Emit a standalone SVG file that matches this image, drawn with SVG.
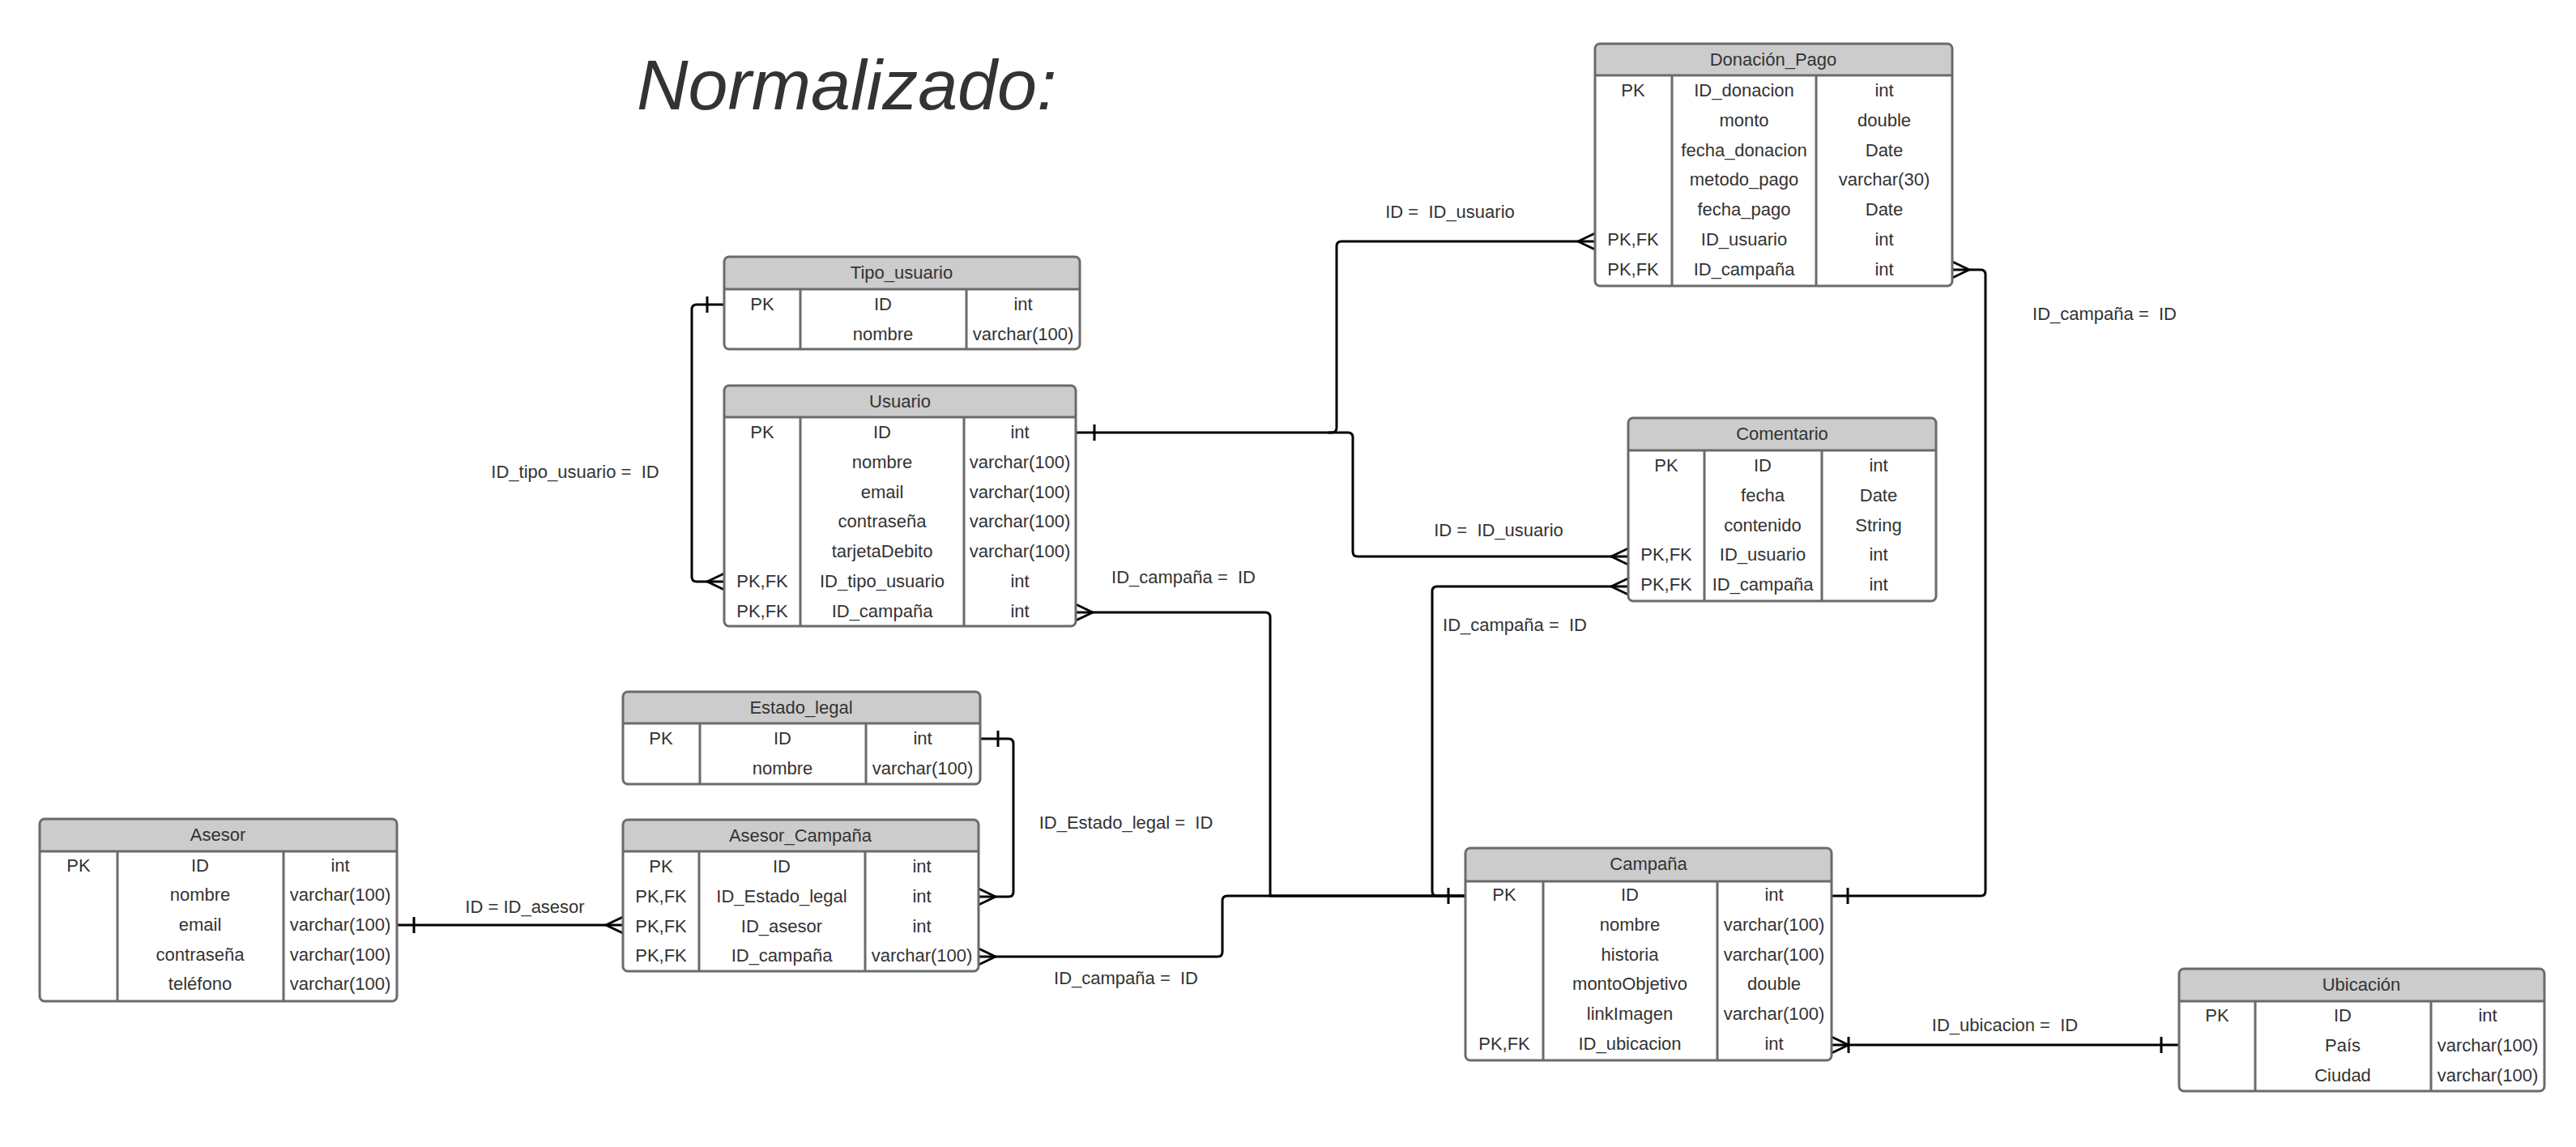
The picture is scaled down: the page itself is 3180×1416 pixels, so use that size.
<svg xmlns="http://www.w3.org/2000/svg" width="3180" height="1416" viewBox="0 0 3180 1416">
<style>
.bg{fill:#fff}
.hd{fill:#cccccc;stroke:none}
.bx{fill:none;stroke:#6b6b6b;stroke-width:3}
.ln{stroke:#6b6b6b;stroke-width:3}
text{font-family:"Liberation Sans",Arial,sans-serif;font-size:22px;fill:#333;text-anchor:middle}
.lbl{white-space:pre}
.title{font-size:88px;font-style:italic;text-anchor:start}
.c{fill:none;stroke:#000;stroke-width:3;stroke-linejoin:round}
</style>
<rect class="bg" x="0" y="0" width="3180" height="1416"/>
<text class="title" x="786" y="135">Normalizado:</text>

<g id="connectors" xml:space="preserve">
<path class="c" d="M894 376 H860 Q854 376 854 382 V712 Q854 718 860 718 H894"/>
<path class="c" d="M873 366 V386"/>
<path class="c" d="M894 708 L873 718 L894 728"/>
<text class="lbl" x="710" y="590">ID_tipo_usuario =  ID</text>
<path class="c" d="M1328 534 H1644 Q1650 534 1650 528 V304 Q1650 298 1656 298 H1969"/>
<path class="c" d="M1351 524 V544"/>
<path class="c" d="M1969 288 L1948 298 L1969 308"/>
<text class="lbl" x="1790" y="269">ID =  ID_usuario</text>
<path class="c" d="M1640 534 H1664 Q1670 534 1670 540 V681 Q1670 687 1676 687 H2010"/>
<path class="c" d="M2010 677 L1989 687 L2010 697"/>
<text class="lbl" x="1850" y="662">ID =  ID_usuario</text>
<path class="c" d="M1328 756 H1562 Q1568 756 1568 762 V1106 H1809"/>
<path class="c" d="M1328 746 L1349 756 L1328 766"/>
<path class="c" d="M1788 1096 V1116"/>
<text class="lbl" x="1461" y="720">ID_campaña =  ID</text>
<path class="c" d="M2010 724 H1774 Q1768 724 1768 730 V1100 Q1768 1106 1774 1106 H1809"/>
<path class="c" d="M2010 714 L1989 724 L2010 734"/>
<text class="lbl" x="1870" y="779">ID_campaña =  ID</text>
<path class="c" d="M2410 333 H2445 Q2451 333 2451 339 V1100 Q2451 1106 2445 1106 H2261"/>
<path class="c" d="M2410 323 L2431 333 L2410 343"/>
<path class="c" d="M2281 1096 V1116"/>
<text class="lbl" x="2598" y="395">ID_campaña =  ID</text>
<path class="c" d="M1210 912 H1245 Q1251 912 1251 918 V1101 Q1251 1107 1245 1107 H1208"/>
<path class="c" d="M1232 902 V922"/>
<path class="c" d="M1208 1097 L1229 1107 L1208 1117"/>
<text class="lbl" x="1390" y="1023">ID_Estado_legal =  ID</text>
<path class="c" d="M490 1142 H769"/>
<path class="c" d="M511 1132 V1152"/>
<path class="c" d="M769 1132 L748 1142 L769 1152"/>
<text class="lbl" x="648" y="1127">ID = ID_asesor</text>
<path class="c" d="M1208 1181 H1503 Q1509 1181 1509 1175 V1112 Q1509 1106 1515 1106 H1809"/>
<path class="c" d="M1208 1171 L1229 1181 L1208 1191"/>
<text class="lbl" x="1390" y="1215">ID_campaña =  ID</text>
<path class="c" d="M2261 1290 H2690"/>
<path class="c" d="M2261 1280 L2282 1290 L2261 1300"/>
<path class="c" d="M2282 1280 V1300"/>
<path class="c" d="M2668 1280 V1300"/>
<text class="lbl" x="2475" y="1273">ID_ubicacion =  ID</text>
</g>

<g id="Donacion_Pago">
<rect class="bg" x="1969" y="54" width="441" height="299" rx="6"/>
<path class="hd" d="M1969 93 V60 Q1969 54 1975 54 H2404 Q2410 54 2410 60 V93 Z"/>
<rect class="bx" x="1969" y="54" width="441" height="299" rx="6"/>
<path class="ln" d="M1969 93 H2410 M2064 93 V353 M2242 93 V353"/>
<text x="2189" y="81">Donación_Pago</text>
<text x="2016" y="119">PK</text><text x="2153" y="119">ID_donacion</text><text x="2326" y="119">int</text>
<text x="2153" y="156">monto</text><text x="2326" y="156">double</text>
<text x="2153" y="193">fecha_donacion</text><text x="2326" y="193">Date</text>
<text x="2153" y="229">metodo_pago</text><text x="2326" y="229">varchar(30)</text>
<text x="2153" y="266">fecha_pago</text><text x="2326" y="266">Date</text>
<text x="2016" y="303">PK,FK</text><text x="2153" y="303">ID_usuario</text><text x="2326" y="303">int</text>
<text x="2016" y="340">PK,FK</text><text x="2153" y="340">ID_campaña</text><text x="2326" y="340">int</text>
</g>

<g id="Tipo_usuario">
<rect class="bg" x="894" y="317" width="439" height="114" rx="6"/>
<path class="hd" d="M894 357 V323 Q894 317 900 317 H1327 Q1333 317 1333 323 V357 Z"/>
<rect class="bx" x="894" y="317" width="439" height="114" rx="6"/>
<path class="ln" d="M894 357 H1333 M988 357 V431 M1193 357 V431"/>
<text x="1113" y="344">Tipo_usuario</text>
<text x="941" y="383">PK</text><text x="1090" y="383">ID</text><text x="1263" y="383">int</text>
<text x="1090" y="420">nombre</text><text x="1263" y="420">varchar(100)</text>
</g>

<g id="Usuario">
<rect class="bg" x="894" y="476" width="434" height="297" rx="6"/>
<path class="hd" d="M894 515 V482 Q894 476 900 476 H1322 Q1328 476 1328 482 V515 Z"/>
<rect class="bx" x="894" y="476" width="434" height="297" rx="6"/>
<path class="ln" d="M894 515 H1328 M988 515 V773 M1190 515 V773"/>
<text x="1111" y="503">Usuario</text>
<text x="941" y="541">PK</text><text x="1089" y="541">ID</text><text x="1259" y="541">int</text>
<text x="1089" y="578">nombre</text><text x="1259" y="578">varchar(100)</text>
<text x="1089" y="615">email</text><text x="1259" y="615">varchar(100)</text>
<text x="1089" y="651">contraseña</text><text x="1259" y="651">varchar(100)</text>
<text x="1089" y="688">tarjetaDebito</text><text x="1259" y="688">varchar(100)</text>
<text x="941" y="725">PK,FK</text><text x="1089" y="725">ID_tipo_usuario</text><text x="1259" y="725">int</text>
<text x="941" y="762">PK,FK</text><text x="1089" y="762">ID_campaña</text><text x="1259" y="762">int</text>
</g>

<g id="Comentario">
<rect class="bg" x="2010" y="516" width="380" height="226" rx="6"/>
<path class="hd" d="M2010 556 V522 Q2010 516 2016 516 H2384 Q2390 516 2390 522 V556 Z"/>
<rect class="bx" x="2010" y="516" width="380" height="226" rx="6"/>
<path class="ln" d="M2010 556 H2390 M2104 556 V742 M2249 556 V742"/>
<text x="2200" y="543">Comentario</text>
<text x="2057" y="582">PK</text><text x="2176" y="582">ID</text><text x="2319" y="582">int</text>
<text x="2176" y="619">fecha</text><text x="2319" y="619">Date</text>
<text x="2176" y="656">contenido</text><text x="2319" y="656">String</text>
<text x="2057" y="692">PK,FK</text><text x="2176" y="692">ID_usuario</text><text x="2319" y="692">int</text>
<text x="2057" y="729">PK,FK</text><text x="2176" y="729">ID_campaña</text><text x="2319" y="729">int</text>
</g>

<g id="Estado_legal">
<rect class="bg" x="769" y="854" width="441" height="114" rx="6"/>
<path class="hd" d="M769 893 V860 Q769 854 775 854 H1204 Q1210 854 1210 860 V893 Z"/>
<rect class="bx" x="769" y="854" width="441" height="114" rx="6"/>
<path class="ln" d="M769 893 H1210 M864 893 V968 M1069 893 V968"/>
<text x="989" y="881">Estado_legal</text>
<text x="816" y="919">PK</text><text x="966" y="919">ID</text><text x="1139" y="919">int</text>
<text x="966" y="956">nombre</text><text x="1139" y="956">varchar(100)</text>
</g>

<g id="Asesor_Campana">
<rect class="bg" x="769" y="1012" width="439" height="187" rx="6"/>
<path class="hd" d="M769 1051 V1018 Q769 1012 775 1012 H1202 Q1208 1012 1208 1018 V1051 Z"/>
<rect class="bx" x="769" y="1012" width="439" height="187" rx="6"/>
<path class="ln" d="M769 1051 H1208 M863 1051 V1199 M1068 1051 V1199"/>
<text x="988" y="1039">Asesor_Campaña</text>
<text x="816" y="1077">PK</text><text x="965" y="1077">ID</text><text x="1138" y="1077">int</text>
<text x="816" y="1114">PK,FK</text><text x="965" y="1114">ID_Estado_legal</text><text x="1138" y="1114">int</text>
<text x="816" y="1151">PK,FK</text><text x="965" y="1151">ID_asesor</text><text x="1138" y="1151">int</text>
<text x="816" y="1187">PK,FK</text><text x="965" y="1187">ID_campaña</text><text x="1138" y="1187">varchar(100)</text>
</g>

<g id="Asesor">
<rect class="bg" x="49" y="1011" width="441" height="225" rx="6"/>
<path class="hd" d="M49 1051 V1017 Q49 1011 55 1011 H484 Q490 1011 490 1017 V1051 Z"/>
<rect class="bx" x="49" y="1011" width="441" height="225" rx="6"/>
<path class="ln" d="M49 1051 H490 M145 1051 V1236 M350 1051 V1236"/>
<text x="269" y="1038">Asesor</text>
<text x="97" y="1076">PK</text><text x="247" y="1076">ID</text><text x="420" y="1076">int</text>
<text x="247" y="1112">nombre</text><text x="420" y="1112">varchar(100)</text>
<text x="247" y="1149">email</text><text x="420" y="1149">varchar(100)</text>
<text x="247" y="1186">contraseña</text><text x="420" y="1186">varchar(100)</text>
<text x="247" y="1222">teléfono</text><text x="420" y="1222">varchar(100)</text>
</g>

<g id="Campana">
<rect class="bg" x="1809" y="1047" width="452" height="262" rx="6"/>
<path class="hd" d="M1809 1088 V1053 Q1809 1047 1815 1047 H2255 Q2261 1047 2261 1053 V1088 Z"/>
<rect class="bx" x="1809" y="1047" width="452" height="262" rx="6"/>
<path class="ln" d="M1809 1088 H2261 M1905 1088 V1309 M2120 1088 V1309"/>
<text x="2035" y="1074">Campaña</text>
<text x="1857" y="1112">PK</text><text x="2012" y="1112">ID</text><text x="2190" y="1112">int</text>
<text x="2012" y="1149">nombre</text><text x="2190" y="1149">varchar(100)</text>
<text x="2012" y="1186">historia</text><text x="2190" y="1186">varchar(100)</text>
<text x="2012" y="1222">montoObjetivo</text><text x="2190" y="1222">double</text>
<text x="2012" y="1259">linkImagen</text><text x="2190" y="1259">varchar(100)</text>
<text x="1857" y="1296">PK,FK</text><text x="2012" y="1296">ID_ubicacion</text><text x="2190" y="1296">int</text>
</g>

<g id="Ubicacion">
<rect class="bg" x="2690" y="1196" width="451" height="151" rx="6"/>
<path class="hd" d="M2690 1236 V1202 Q2690 1196 2696 1196 H3135 Q3141 1196 3141 1202 V1236 Z"/>
<rect class="bx" x="2690" y="1196" width="451" height="151" rx="6"/>
<path class="ln" d="M2690 1236 H3141 M2784 1236 V1347 M3001 1236 V1347"/>
<text x="2915" y="1223">Ubicación</text>
<text x="2737" y="1261">PK</text><text x="2892" y="1261">ID</text><text x="3071" y="1261">int</text>
<text x="2892" y="1298">País</text><text x="3071" y="1298">varchar(100)</text>
<text x="2892" y="1335">Ciudad</text><text x="3071" y="1335">varchar(100)</text>
</g>
</svg>
